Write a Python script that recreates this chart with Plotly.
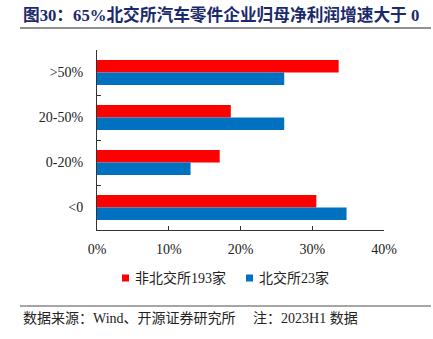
import plotly.graph_objects as go

categories = [">50%", "20-50%", "0-20%", "<0"]
non_bse = [33.68, 18.65, 17.10, 30.57]   # 非北交所193家
bse = [26.09, 26.09, 13.04, 34.78]       # 北交所23家
series_names = ["非北交所193家", "北交所23家"]
x_ticks = [0, 10, 20, 30, 40]
x_tick_labels = ["0%", "10%", "20%", "30%", "40%"]

RED = "#FF0000"
BLUE = "#0070C0"
SERIF = "Liberation Serif, Times New Roman, Noto Sans CJK SC"

fig = go.Figure()
fig.add_trace(go.Bar(y=categories, x=non_bse, name=series_names[0], orientation="h",
                     marker=dict(color=RED, line=dict(width=0)), showlegend=False))
fig.add_trace(go.Bar(y=categories, x=bse, name=series_names[1], orientation="h",
                     marker=dict(color=BLUE, line=dict(width=0)), showlegend=False))

W, H = 433, 339
L, R, T, B = 97, 49, 50, 109
pw, ph = W - L - R, H - T - B

def px_x(p):
    return (p - L) / pw

def px_y(p):
    return (H - B - p) / ph

fig.update_layout(
    width=W, height=H,
    margin=dict(l=L, r=R, t=T, b=B, pad=0),
    paper_bgcolor="white", plot_bgcolor="white",
    barmode="group", bargap=0.44, bargroupgap=0,
    font=dict(family=SERIF, size=14, color="#222222"),
    showlegend=False,
    xaxis=dict(range=[0, 40], tickvals=x_ticks, ticktext=x_tick_labels, showgrid=False, zeroline=False,
               showline=True, linecolor="#333333", linewidth=1, ticks="inside", ticklen=4,
               tickcolor="#333333", ticklabelstandoff=6, fixedrange=True),
    yaxis=dict(categoryorder="array", categoryarray=categories, autorange="reversed",
               showgrid=False, zeroline=False, showline=True, linecolor="#333333", linewidth=1,
               ticks="inside", ticklen=4, tickcolor="#333333", tickson="boundaries",
               ticklabelstandoff=10, fixedrange=True),
)

# legend drawn as text
legend_colors = [RED, BLUE]
x_legend = [122, 246]
for name, col, xp in zip(series_names, legend_colors, x_legend):
    fig.add_shape(type="rect", xref="paper", yref="paper",
                  x0=px_x(xp), x1=px_x(xp + 7), y0=px_y(274.5), y1=px_y(281.5),
                  fillcolor=col, line=dict(width=0))
    fig.add_annotation(text=name, xref="paper", yref="paper", x=px_x(xp + 11), y=px_y(278),
                       xanchor="left", yanchor="middle", showarrow=False,
                       font=dict(size=14, family=SERIF, color="#222222"))

fig.add_annotation(text="<b>图30：65%北交所汽车零件企业归母净利润增速大于 0</b>",
                   xref="paper", yref="paper", x=px_x(21), y=px_y(15), xanchor="left", yanchor="middle",
                   showarrow=False, font=dict(size=16.7, family=SERIF, color="#1B2A6B"))
fig.add_shape(type="line", xref="paper", yref="paper", x0=px_x(20), x1=px_x(431),
              y0=px_y(28), y1=px_y(28), line=dict(color="#222222", width=1))
fig.add_shape(type="line", xref="paper", yref="paper", x0=px_x(20), x1=px_x(431),
              y0=px_y(306), y1=px_y(306), line=dict(color="#888888", width=1.5))
fig.add_annotation(text="数据来源：Wind、开源证券研究所\u3000\u00a0注：2023H1 数据",
                   xref="paper", yref="paper", x=px_x(21), y=px_y(318), xanchor="left", yanchor="middle",
                   showarrow=False, font=dict(size=14, family=SERIF, color="#222222"))

fig.write_html("out.html")
